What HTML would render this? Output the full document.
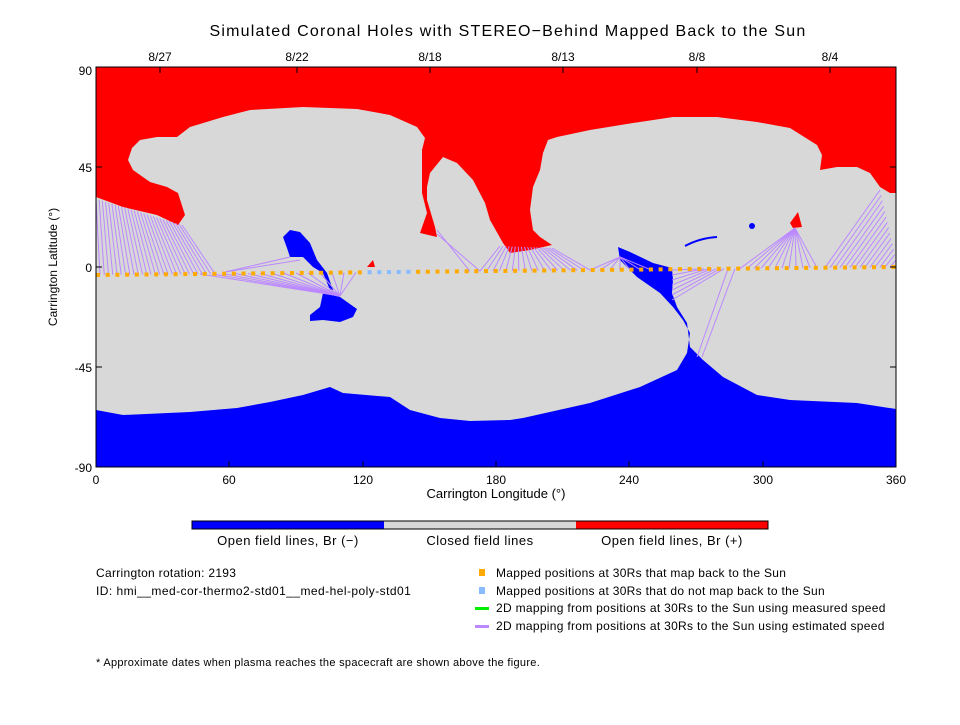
<!DOCTYPE html>
<html><head><meta charset="utf-8"><style>
body{margin:0;background:#fff;width:960px;height:720px;overflow:hidden}
svg text{font-family:"Liberation Sans",sans-serif;fill:#000}
</style></head><body>
<svg id="s" width="960" height="720" xmlns="http://www.w3.org/2000/svg">
<text x="508" y="36" font-size="16" text-anchor="middle" letter-spacing="1.2">Simulated Coronal Holes with STEREO−Behind Mapped Back to the Sun</text>
<g font-size="12" text-anchor="middle">
<text x="160" y="61">8/27</text><text x="297" y="61">8/22</text><text x="430" y="61">8/18</text><text x="563" y="61">8/13</text><text x="697" y="61">8/8</text><text x="830" y="61">8/4</text>
</g>
<clipPath id="c"><rect x="96" y="67" width="800" height="400"/></clipPath>
<g clip-path="url(#c)">
<rect x="96" y="67" width="800" height="400" fill="#d8d8d8"/>
<path fill="#ff0000" d="M96,60 L896,60 L896,193 L890,193 L880,187 L870,173 L857,167 L837,167 L820,170 L822,155 L817,145 L790,128 L757,122 L717,117 L673,117 L633,123 L590,130 L557,137 L548,140 L543,153 L540,170 L533,187 L530,210 L533,230 L540,237 L552,245 L530,250 L510,253 L503,243 L490,220 L485,203 L473,180 L457,163 L443,157 L430,173 L427,187 L427,200 L435,227 L437,237 L420,233 L427,213 L422,193 L422,150 L425,138 L417,127 L390,115 L357,109 L303,107 L250,110 L223,117 L190,127 L177,137 L157,137 L140,140 L132,148 L128,160 L133,170 L150,182 L167,187 L178,193 L185,215 L178,225 L157,215 L123,207 L96,197 Z"/>
<path fill="#0000ff" d="M96,410 L123,415 L190,412 L237,408 L270,402 L303,395 L330,387 L343,393 L390,397 L410,410 L440,418 L470,421 L510,420 L523,418 L590,403 L640,387 L677,370 L687,353 L690,333 L683,320 L673,307 L660,293 L637,277 L620,260 L618,247 L630,252 L653,263 L672,268 L673,280 L672,293 L677,307 L687,323 L690,347 L703,360 L723,377 L757,395 L790,400 L857,403 L896,409 L896,470 L96,470 Z"/>
<path fill="#0000ff" d="M290,230 L300,232 L310,243 L317,260 L327,273 L333,290 L330,290 L323,273 L313,267 L303,257 L290,257 L287,248 L283,237 Z"/>
<path fill="#0000ff" d="M323,293 L340,297 L357,309 L353,317 L340,322 L323,320 L310,321 L310,315 L320,307 Z"/>
<path fill="#ff0000" d="M367,267 L373,260 L375,267 Z"/>
<path fill="#ff0000" d="M790,223 L798,212 L802,227 L793,228 Z"/>
<path fill="none" stroke="#0000ff" stroke-width="2" d="M685,246 Q700,238 717,237"/>
<ellipse cx="752" cy="226" rx="3" ry="3" fill="#0000ff"/>
<g id="lines" stroke="#bb88ff" stroke-width="1" fill="none"></g>
<g id="dots"></g>
</g>
<rect x="96" y="67" width="800" height="400" fill="none" stroke="#000" stroke-width="1"/>
<g stroke="#000" stroke-width="1" id="ticks"></g>
<g font-size="12" text-anchor="end">
<text x="92" y="75">90</text><text x="92" y="172">45</text><text x="92" y="272">0</text><text x="92" y="372">-45</text><text x="92" y="472">-90</text>
</g>
<g font-size="12" text-anchor="middle">
<text x="96" y="484">0</text><text x="229" y="484">60</text><text x="363" y="484">120</text><text x="496" y="484">180</text><text x="629" y="484">240</text><text x="763" y="484">300</text><text x="896" y="484">360</text>
</g>
<text x="496" y="498" font-size="13" text-anchor="middle">Carrington Longitude (°)</text>
<text transform="translate(57,267) rotate(-90)" font-size="12" text-anchor="middle">Carrington Latitude (°)</text>
<rect x="192" y="521" width="192" height="8" fill="#0000ff"/>
<rect x="384" y="521" width="192" height="8" fill="#d8d8d8"/>
<rect x="576" y="521" width="192" height="8" fill="#ff0000"/>
<rect x="192" y="521" width="576" height="8" fill="none" stroke="#000"/>
<g font-size="13" text-anchor="middle" letter-spacing="0.5">
<text x="288" y="545">Open field lines, Br (−)</text><text x="480" y="545">Closed field lines</text><text x="672" y="545">Open field lines, Br (+)</text>
</g>
<g font-size="12" letter-spacing="0.3">
<text x="96" y="577">Carrington rotation: 2193</text>
<text x="96" y="595" letter-spacing="0.45">ID: hmi__med-cor-thermo2-std01__med-hel-poly-std01</text>
<text x="496" y="577">Mapped positions at 30Rs that map back to the Sun</text>
<text x="496" y="595">Mapped positions at 30Rs that do not map back to the Sun</text>
<text x="496" y="612">2D mapping from positions at 30Rs to the Sun using measured speed</text>
<text x="496" y="630">2D mapping from positions at 30Rs to the Sun using estimated speed</text>
<text x="96" y="666" font-size="11">* Approximate dates when plasma reaches the spacecraft are shown above the figure.</text>
</g>
<rect x="479" y="569" width="6" height="7" fill="#ffaa00"/>
<rect x="479" y="587" width="6" height="7" fill="#88bbff"/>
<rect x="475" y="607" width="14" height="3" fill="#00ee00"/>
<rect x="475" y="625" width="14" height="3" fill="#bb88ff"/>
</svg>
<script>
var NS="http://www.w3.org/2000/svg";
function el(p,t,a){var e=document.createElementNS(NS,t);for(var k in a)e.setAttribute(k,a[k]);p.appendChild(e);return e;}
var L=document.getElementById("lines"),D=document.getElementById("dots"),T=document.getElementById("ticks");
function dy(x){return 275-(x-96)*8/800;}
function ln(x1,y1,x2,y2){el(L,"line",{x1:x1,y1:y1,x2:x2,y2:y2});}
for(var i=0;i<28;i++){var f=i/27;var sx=96+f*86,sy=199+f*26;var tx=100+f*115;ln(sx,sy,tx,dy(tx));}
for(var i=0;i<14;i++){var tx=200+i*12;ln(340,296,tx,dy(tx));}
ln(225,272,290,257);ln(225,272,300,260);
for(var i=0;i<18;i++){var f=i/17;var sx=500+f*52,sy=246+f*2;var tx=480+f*110;ln(sx,sy,tx,dy(tx));}
ln(437,230,470,dy(470));ln(437,234,480,dy(480));
for(var i=0;i<7;i++){var tx=590+i*10;ln(620,257,tx,dy(tx));}
for(var i=0;i<7;i++){ln(672,270+i*5,700+i*4,dy(700+i*4));}
ln(697,357,728,dy(728));ln(702,357,735,dy(735));
for(var i=0;i<12;i++){var tx=740+i*7;ln(795,228,tx,dy(tx));}
for(var i=0;i<14;i++){var f=i/13;var sx=880+f*16,sy=190+f*70;var tx=825+f*65;ln(sx,sy,tx,dy(tx));}
for(var x=98;x<896;x+=9.7){var b=(x>366&&x<412);el(D,"rect",{x:x-2,y:dy(x)-2,width:4,height:4,fill:b?"#88bbff":"#ffaa00"});}
[96,229,363,496,629,763,896].forEach(function(x){el(T,"line",{x1:x,y1:467,x2:x,y2:461});});
[160,297,430,563,697,830].forEach(function(x){el(T,"line",{x1:x,y1:67,x2:x,y2:73});});
[167,267,367].forEach(function(y){el(T,"line",{x1:96,y1:y,x2:102,y2:y});el(T,"line",{x1:896,y1:y,x2:890,y2:y});});
</script>
</body></html>
